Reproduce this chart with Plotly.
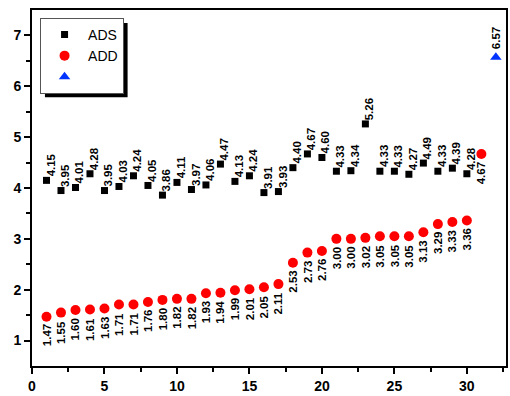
import plotly.graph_objects as go

ads_x = list(range(1, 31))
ads_y = [4.15, 3.95, 4.01, 4.28, 3.95, 4.03, 4.24, 4.05, 3.86, 4.11, 3.97, 4.06, 4.47, 4.13, 4.24,
         3.91, 3.93, 4.40, 4.67, 4.60, 4.33, 4.34, 5.26, 4.33, 4.33, 4.27, 4.49, 4.33, 4.39, 4.28]
add_x = list(range(1, 32))
add_y = [1.47, 1.55, 1.60, 1.61, 1.63, 1.71, 1.71, 1.76, 1.80, 1.82, 1.82, 1.93, 1.94, 1.99, 2.01,
         2.05, 2.11, 2.53, 2.73, 2.76, 3.00, 3.00, 3.02, 3.05, 3.05, 3.05, 3.13, 3.29, 3.33, 3.36, 4.67]
tri_x = [32]
tri_y = [6.57]

fig = go.Figure()
fig.add_trace(go.Scatter(x=ads_x, y=ads_y, mode="markers", name="ADS",
                         marker=dict(symbol="square", size=7, color="black")))
fig.add_trace(go.Scatter(x=add_x, y=add_y, mode="markers", name="ADD",
                         marker=dict(symbol="circle", size=10, color="#ff0000")))
fig.add_trace(go.Scatter(x=tri_x, y=tri_y, mode="markers", name=" ",
                         marker=dict(symbol="triangle-up", size=10, color="#0033ff")))

lab_font = dict(family="Liberation Sans", size=11.5, color="black", weight="bold")
ann = []
for x, y in zip(ads_x, ads_y):
    ann.append(dict(x=x, y=y, xref="x", yref="y", text=f"{y:.2f}", showarrow=False,
                    textangle=-90, xanchor="left", yanchor="bottom", xshift=-3, yshift=3,
                    borderpad=0, font=lab_font))
for x, y in zip(add_x, add_y):
    ann.append(dict(x=x, y=y, xref="x", yref="y", text=f"{y:.2f}", showarrow=False,
                    textangle=-90, xanchor="center", yanchor="top", xshift=0, yshift=-7,
                    borderpad=0, font=lab_font))
for x, y in zip(tri_x, tri_y):
    ann.append(dict(x=x, y=y, xref="x", yref="y", text=f"{y:.2f}", showarrow=False,
                    textangle=-90, xanchor="center", yanchor="bottom", xshift=0, yshift=7,
                    borderpad=0, font=lab_font))

tick_font = dict(family="Liberation Sans", size=14, color="black", weight="bold")
fig.update_layout(
    width=510, height=396,
    margin=dict(l=32, r=2, t=10, b=27),
    plot_bgcolor="white", paper_bgcolor="white",
    showlegend=True,
    legend=dict(x=0.017, y=0.978, xanchor="left", yanchor="top",
                bgcolor="white", bordercolor="#555555", borderwidth=1,
                font=dict(family="Liberation Sans", size=14, color="black"),
                tracegroupgap=0, itemwidth=37),
    annotations=ann,
    shapes=[dict(type="rect", xref="paper", yref="paper",
                 x0=(45 - 32) / 476, x1=(128 - 32) / 476,
                 y0=1 - (98 - 10) / 359, y1=1 - (23 - 10) / 359,
                 fillcolor="black", line=dict(width=0), layer="above")],
    xaxis=dict(range=[0, 32.7], tickvals=[0, 5, 10, 15, 20, 25, 30], ticks="outside",
               ticklen=6, tickwidth=2, tickcolor="black", showline=True, linewidth=2,
               linecolor="black", mirror=True, showgrid=False, zeroline=False,
               tickfont=tick_font,
               minor=dict(tickvals=[2.5, 7.5, 12.5, 17.5, 22.5, 27.5, 32.5], ticks="outside",
                          ticklen=4, tickwidth=2, tickcolor="black", showgrid=False)),
    yaxis=dict(range=[0.5, 7.5], tickvals=[1, 2, 3, 4, 5, 6, 7], ticks="outside",
               ticklen=6, tickwidth=2, tickcolor="black", showline=True, linewidth=2,
               linecolor="black", mirror=True, showgrid=False, zeroline=False,
               tickfont=tick_font,
               minor=dict(tickvals=[1.5, 2.5, 3.5, 4.5, 5.5, 6.5], ticks="outside",
                          ticklen=4, tickwidth=2, tickcolor="black", showgrid=False)),
)
fig.write_html("out.html")
